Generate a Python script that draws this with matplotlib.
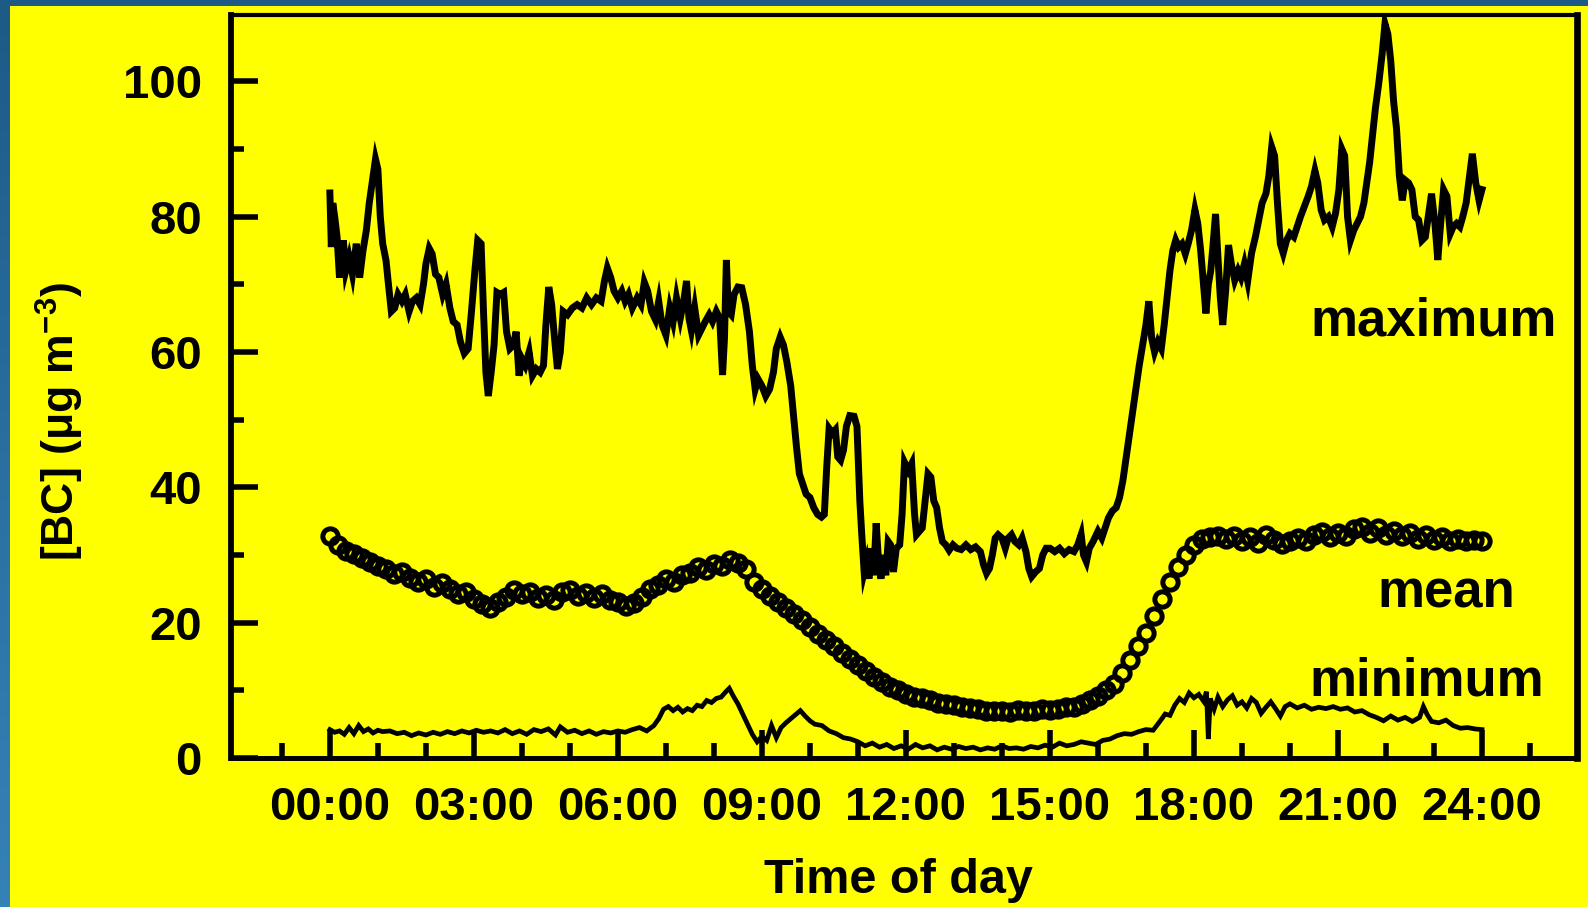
import numpy as np
import matplotlib
matplotlib.use("Agg")
import matplotlib.pyplot as plt
from matplotlib.patches import Rectangle
from matplotlib.ticker import FixedLocator
from matplotlib.colors import LinearSegmentedColormap
from matplotlib import font_manager as fm

# ---------------- data ----------------
MAX_POINTS = [
    (0.00, 83.5), (0.03, 75.5), (0.06, 82), (0.10, 80), (0.15, 77), (0.20, 71), (0.28, 76.5), (0.33, 72),
    (0.40, 74), (0.47, 71.5), (0.55, 76), (0.62, 71), (0.69, 75), (0.76, 78), (0.82, 82), (0.90, 86),
    (0.95, 88.5), (1.00, 87), (1.05, 80), (1.10, 76), (1.17, 73.5), (1.22, 70), (1.28, 66), (1.35, 66.5),
    (1.42, 68.5), (1.50, 67.5), (1.57, 68.5), (1.65, 66), (1.72, 67.5), (1.80, 68), (1.88, 67), (1.95, 70),
    (2.00, 73), (2.07, 75.3), (2.13, 74.5), (2.20, 71.5), (2.27, 71), (2.35, 68.5), (2.42, 70), (2.50, 66.5),
    (2.57, 64.5), (2.65, 64), (2.72, 61.5), (2.80, 59.8), (2.88, 60.5), (2.95, 66), (3.02, 72), (3.08, 76.5),
    (3.15, 76), (3.20, 66), (3.25, 57), (3.30, 53.5), (3.36, 57), (3.42, 61), (3.48, 68.8), (3.55, 68.5),
    (3.62, 68.8), (3.68, 63), (3.75, 60.5), (3.82, 61), (3.88, 63), (3.94, 56.5), (4.00, 59), (4.07, 58),
    (4.15, 60), (4.22, 56.5), (4.30, 57.5), (4.38, 57), (4.45, 58), (4.50, 64), (4.56, 69.6), (4.62, 67),
    (4.68, 62), (4.74, 57.5), (4.80, 60), (4.86, 66), (4.95, 65.5), (5.05, 66.5), (5.15, 67), (5.25, 66.5),
    (5.35, 68), (5.45, 67), (5.55, 68), (5.65, 67.5), (5.72, 70.5), (5.78, 72.4), (5.85, 71), (5.92, 69),
    (6.00, 68), (6.08, 69), (6.15, 67.5), (6.22, 68.5), (6.30, 66.5), (6.40, 68), (6.48, 67), (6.55, 70.3),
    (6.62, 69), (6.70, 66), (6.78, 64.8), (6.85, 67.5), (6.92, 64), (7.00, 62.5), (7.08, 66.5), (7.15, 64.5),
    (7.22, 68), (7.30, 65), (7.37, 67.5), (7.43, 70.5), (7.48, 65), (7.53, 63.2), (7.60, 66.5), (7.68, 62.5),
    (7.75, 63.5), (7.82, 64.5), (7.90, 65.5), (7.97, 64.5), (8.05, 66), (8.12, 65), (8.18, 56.6), (8.22, 62),
    (8.26, 73.6), (8.30, 66), (8.36, 65.5), (8.42, 68.5), (8.50, 69.6), (8.58, 69.5), (8.66, 67), (8.74, 63),
    (8.80, 58), (8.86, 54.5), (8.92, 56), (9.00, 55), (9.08, 53.5), (9.16, 54.5), (9.24, 57), (9.30, 60.5),
    (9.38, 62.2), (9.45, 61), (9.52, 58.5), (9.60, 55), (9.66, 50.5), (9.72, 46), (9.78, 42), (9.85, 40.5),
    (9.92, 39), (10.00, 38.5), (10.08, 37), (10.16, 36), (10.24, 35.6), (10.30, 36), (10.35, 43), (10.40, 48.7),
    (10.47, 48), (10.53, 48.5), (10.58, 44.5), (10.64, 44), (10.70, 45.5), (10.76, 49), (10.83, 50.6),
    (10.92, 50.5), (10.98, 49), (11.04, 38), (11.08, 33), (11.13, 27.5), (11.18, 29), (11.23, 26.5),
    (11.28, 31), (11.33, 27), (11.38, 34.7), (11.43, 29), (11.48, 26.5), (11.53, 30), (11.58, 27), (11.63, 32),
    (11.68, 31.5), (11.74, 27.5), (11.80, 31), (11.87, 31.5), (11.92, 36), (11.97, 43.7), (12.05, 42.5),
    (12.12, 43.5), (12.18, 36), (12.22, 33), (12.28, 33.5), (12.34, 34), (12.40, 38), (12.46, 42), (12.52, 41.5),
    (12.58, 38), (12.64, 37), (12.70, 34), (12.76, 32), (12.83, 31.5), (12.90, 30.7), (12.98, 31.5), (13.06, 31),
    (13.15, 30.8), (13.25, 31.5), (13.35, 30.8), (13.45, 31.2), (13.55, 30.5), (13.62, 28.5), (13.68, 27.3),
    (13.74, 28), (13.80, 30), (13.86, 32.5), (13.92, 33), (14.00, 32.5), (14.07, 31), (14.13, 32.5), (14.20, 33),
    (14.27, 32), (14.35, 31.5), (14.42, 32.5), (14.50, 30.5), (14.56, 28), (14.62, 26.8), (14.70, 27.5),
    (14.78, 28), (14.85, 30), (14.92, 31), (15.00, 31), (15.10, 30.5), (15.20, 31), (15.30, 30.2), (15.40, 30.8),
    (15.50, 30.5), (15.58, 31.5), (15.65, 33), (15.70, 30), (15.76, 29), (15.82, 31), (15.90, 32), (16.00, 33.5),
    (16.08, 32.5), (16.15, 34), (16.22, 35.5), (16.30, 36.5), (16.38, 37), (16.45, 38.5), (16.52, 41), (16.60, 45),
    (16.66, 48), (16.72, 51), (16.80, 55), (16.86, 58), (16.93, 61), (17.00, 64), (17.06, 67.5), (17.12, 62),
    (17.18, 60), (17.25, 61.5), (17.32, 60.5), (17.38, 64), (17.44, 68), (17.50, 72), (17.56, 75), (17.62, 76.5),
    (17.68, 75.5), (17.75, 76), (17.82, 74.5), (17.88, 76), (17.95, 78), (18.02, 81), (18.08, 79), (18.14, 75),
    (18.20, 70), (18.25, 65.7), (18.30, 70), (18.35, 72), (18.40, 76), (18.45, 80.4), (18.50, 74), (18.55, 68),
    (18.60, 64), (18.66, 69), (18.72, 75.8), (18.78, 73), (18.85, 70.6), (18.92, 72), (18.98, 71), (19.05, 73),
    (19.12, 70.5), (19.20, 74.6), (19.28, 77), (19.35, 79.5), (19.42, 82), (19.50, 83.4), (19.56, 86),
    (19.62, 90.3), (19.68, 89), (19.74, 82), (19.80, 76), (19.86, 74.6), (19.93, 76.5), (20.00, 77.5),
    (20.08, 77), (20.15, 78.5), (20.22, 80), (20.30, 81.5), (20.38, 83), (20.45, 84.5), (20.52, 86.8),
    (20.58, 85), (20.65, 81), (20.72, 79.5), (20.80, 80), (20.88, 78.5), (20.95, 80.5), (21.02, 84), (21.08, 90),
    (21.14, 89), (21.20, 80), (21.26, 76.5), (21.33, 78), (21.40, 79), (21.47, 80), (21.54, 82), (21.60, 85),
    (21.66, 88), (21.72, 92), (21.78, 96), (21.85, 99.7), (21.92, 104), (21.98, 108.5), (22.04, 107),
    (22.10, 103), (22.16, 97), (22.22, 93), (22.28, 86), (22.34, 82.4), (22.40, 85.4), (22.47, 85), (22.54, 84),
    (22.61, 80), (22.68, 79.5), (22.75, 76.5), (22.82, 77), (22.88, 80), (22.95, 83.4), (23.02, 79),
    (23.08, 73.6), (23.14, 79), (23.20, 84), (23.27, 83), (23.34, 77.5), (23.40, 78.5), (23.47, 79),
    (23.54, 78.5), (23.60, 80), (23.67, 82), (23.74, 86), (23.80, 89.3), (23.87, 85), (23.94, 82.4), (24.00, 84),
]
MAX_HOURS = [p[0] for p in MAX_POINTS]
MAX_BC = [p[1] for p in MAX_POINTS]

# mean: one value every 10 minutes from 00:00 to 24:00
MEAN_BC = [
    32.8, 31.5, 30.6, 30.2, 29.6, 28.9, 28.4, 28.0, 27.2, 27.5, 26.6, 26.0,
    26.4, 25.3, 25.8, 25.0, 24.3, 24.6, 23.5, 22.8, 22.2, 23.0, 23.8, 24.8,
    24.2, 24.6, 23.7, 24.1, 23.4, 24.5, 24.8, 24.0, 24.4, 23.6, 24.2, 23.3,
    23.0, 22.4, 22.9, 23.8, 25.0, 25.6, 26.4, 26.0, 27.0, 27.4, 28.2, 27.8,
    28.6, 28.4, 29.2, 28.8, 28.0, 26.0, 25.0, 24.0, 23.0, 22.2, 21.3, 20.4,
    19.4, 18.3, 17.4, 16.6, 15.5, 14.6, 13.8, 12.8, 12.0, 11.2, 10.5, 10.0,
    9.5, 9.0, 8.8, 8.5, 8.2, 8.0, 7.8, 7.5, 7.4, 7.2, 7.0, 6.9,
    7.0, 6.8, 7.1, 6.9, 7.0, 7.2, 7.1, 7.3, 7.5, 7.6, 8.0, 8.5,
    9.2, 10.0, 11.0, 12.5, 14.5, 16.5, 18.5, 21.0, 23.5, 26.0, 28.2, 30.0,
    31.5, 32.4, 32.6, 32.8, 32.3, 32.8, 32.0, 32.6, 31.8, 32.9, 32.2, 31.6,
    32.0, 32.5, 32.1, 33.0, 33.4, 32.6, 33.2, 32.8, 33.8, 34.2, 33.2, 34.0,
    33.0, 33.6, 32.8, 33.2, 32.4, 32.9, 32.2, 32.6, 32.0, 32.3, 32.0, 32.2,
    32.0,
]
MEAN_HOURS = np.linspace(0, 24, len(MEAN_BC))

MIN_POINTS = [
    (0.0, 4.2), (0.1, 3.8), (0.2, 4.0), (0.3, 3.5), (0.4, 4.5), (0.5, 3.6), (0.6, 4.8), (0.7, 3.9), (0.8, 4.3),
    (0.9, 3.7), (1.0, 4.1), (1.1, 3.9), (1.25, 4.0), (1.4, 3.6), (1.55, 3.8), (1.7, 3.3), (1.85, 3.7), (2.0, 3.4),
    (2.15, 3.8), (2.3, 3.5), (2.45, 3.9), (2.6, 3.6), (2.75, 4.0), (2.9, 3.7), (3.05, 4.1), (3.2, 3.8), (3.35, 4.0),
    (3.5, 3.7), (3.65, 4.2), (3.8, 3.6), (3.95, 4.0), (4.1, 3.5), (4.25, 4.2), (4.4, 3.9), (4.55, 4.3), (4.7, 3.4),
    (4.8, 4.6), (4.95, 3.8), (5.1, 4.1), (5.25, 3.6), (5.4, 4.0), (5.55, 3.5), (5.7, 3.9), (5.85, 3.7), (6.0, 4.0),
    (6.15, 3.8), (6.3, 4.2), (6.45, 4.5), (6.6, 4.0), (6.75, 4.8), (6.85, 5.8), (6.95, 7.2), (7.05, 7.6), (7.15, 7.0),
    (7.25, 7.5), (7.35, 6.8), (7.45, 7.3), (7.55, 7.0), (7.65, 7.8), (7.75, 7.6), (7.85, 8.5), (7.95, 8.2),
    (8.05, 8.8), (8.15, 9.0), (8.25, 9.8), (8.32, 10.3), (8.4, 9.2), (8.5, 8.0), (8.6, 6.5), (8.7, 5.0), (8.8, 3.5),
    (8.9, 2.4), (9.0, 3.2), (9.1, 2.6), (9.2, 4.8), (9.3, 3.0), (9.4, 4.5), (9.5, 5.2), (9.6, 5.8), (9.7, 6.4),
    (9.8, 7.0), (9.9, 6.2), (10.0, 5.5), (10.1, 5.0), (10.25, 4.8), (10.4, 4.0), (10.55, 3.6), (10.7, 3.0),
    (10.85, 2.8), (11.0, 2.4), (11.15, 1.8), (11.3, 2.2), (11.45, 1.6), (11.6, 2.0), (11.75, 1.4), (11.9, 1.8),
    (12.05, 1.3), (12.2, 2.0), (12.35, 1.5), (12.5, 1.8), (12.65, 1.2), (12.8, 1.6), (12.95, 1.3), (13.1, 1.7),
    (13.25, 1.4), (13.4, 1.6), (13.55, 1.2), (13.7, 1.5), (13.85, 1.3), (14.0, 1.8), (14.15, 1.4), (14.3, 1.5),
    (14.45, 1.3), (14.6, 1.7), (14.75, 1.5), (14.9, 1.9), (15.05, 1.6), (15.2, 2.2), (15.35, 1.8), (15.5, 2.0),
    (15.65, 2.4), (15.8, 2.2), (15.95, 2.0), (16.1, 2.6), (16.25, 2.8), (16.4, 3.3), (16.55, 3.6), (16.7, 3.5),
    (16.85, 3.9), (17.0, 4.2), (17.15, 4.1), (17.3, 5.5), (17.4, 6.5), (17.5, 6.3), (17.6, 7.8), (17.7, 8.8),
    (17.8, 8.2), (17.9, 9.6), (18.0, 8.9), (18.1, 9.4), (18.2, 8.4), (18.26, 9.8), (18.3, 2.8), (18.34, 8.8),
    (18.42, 7.2), (18.5, 9.0), (18.6, 7.6), (18.7, 8.6), (18.8, 9.2), (18.9, 7.8), (19.0, 8.3), (19.1, 7.4),
    (19.2, 8.8), (19.3, 8.2), (19.4, 6.6), (19.5, 7.5), (19.6, 8.3), (19.7, 7.3), (19.8, 6.2), (19.9, 7.6),
    (20.0, 8.0), (20.15, 7.4), (20.3, 7.8), (20.45, 7.2), (20.6, 7.5), (20.75, 7.3), (20.9, 7.6), (21.05, 7.2),
    (21.2, 7.4), (21.35, 6.8), (21.5, 7.0), (21.65, 6.4), (21.8, 6.0), (21.95, 5.5), (22.1, 6.2), (22.25, 5.6),
    (22.4, 6.0), (22.55, 5.4), (22.7, 6.0), (22.78, 7.6), (22.86, 6.4), (22.95, 5.4), (23.1, 5.2), (23.25, 5.6),
    (23.4, 4.8), (23.55, 4.4), (23.7, 4.5), (23.85, 4.3), (24.0, 4.2),
]
MIN_HOURS = [p[0] for p in MIN_POINTS]
MIN_BC = [p[1] for p in MIN_POINTS]

MAJOR_HOURS = [0, 3, 6, 9, 12, 15, 18, 21, 24]
X_TICK_LABELS = ["00:00", "03:00", "06:00", "09:00", "12:00", "15:00", "18:00", "21:00", "24:00"]
MINOR_HOURS = [-1, 1, 2, 4, 5, 7, 8, 10, 11, 13, 14, 16, 17, 19, 20, 22, 23, 25]
Y_MAJOR = [0, 20, 40, 60, 80, 100]
Y_MINOR = [10, 30, 50, 70, 90]
SERIES_LABELS = ["maximum", "mean", "minimum"]
X_LABEL = "Time of day"
Y_LABEL = r"[BC] ($\mathregular{\mu}$g m$^{\mathregular{-3}}$)"

# ---------------- style ----------------
YELLOW = "#ffff00"
names = {f.name for f in fm.fontManager.ttflist}
MAIN = "Liberation Sans" if "Liberation Sans" in names else "DejaVu Sans"

plt.rcParams["font.family"] = [MAIN, "DejaVu Sans"]
plt.rcParams["font.weight"] = "bold"
plt.rcParams["mathtext.fontset"] = "custom"
plt.rcParams["mathtext.rm"] = MAIN + ":bold"
plt.rcParams["mathtext.it"] = MAIN + ":bold"
plt.rcParams["mathtext.bf"] = MAIN + ":bold"

W, H = 1588, 907
fig = plt.figure(figsize=(W / 100, H / 100), dpi=100, facecolor=YELLOW)

# blue frame strips (top and left)
fig.add_artist(Rectangle((0, 1 - 6 / H), 1, 6 / H, transform=fig.transFigure,
                         facecolor="#1d5a86", edgecolor="none", zorder=0))
axb = fig.add_axes([0, 0, 10 / W, 1])
grad = np.linspace(0, 1, 256).reshape(-1, 1)
cmap = LinearSegmentedColormap.from_list("b", ["#1d5a86", "#2a6fa0", "#3582b8"])
axb.imshow(grad, aspect="auto", cmap=cmap, extent=[0, 1, 0, 1], origin="upper")
axb.set_axis_off()

ax = fig.add_axes([231 / W, 1 - 758 / H, (1577 - 231) / W, (758 - 15) / H])
ax.set_facecolor(YELLOW)
ax.set_xlim(-2.06, 25.98)
ax.set_ylim(0, 109.8)

ax.plot(MAX_HOURS, MAX_BC, color="black", lw=5.0, solid_joinstyle="miter", zorder=3)
ax.plot(MIN_HOURS, MIN_BC, color="black", lw=3.4, solid_joinstyle="miter", zorder=3)
ax.plot(MEAN_HOURS, MEAN_BC, ls="none", marker="o", ms=11, mfc="none",
        mec="black", mew=3.6, zorder=4)

ax.set_xticks(MAJOR_HOURS)
ax.set_xticklabels(X_TICK_LABELS)
ax.xaxis.set_minor_locator(FixedLocator(MINOR_HOURS))
ax.set_yticks(Y_MAJOR)
ax.set_yticklabels([str(v) for v in Y_MAJOR])
ax.yaxis.set_minor_locator(FixedLocator(Y_MINOR))

ax.tick_params(which="both", direction="in", width=4, color="black",
               top=False, right=False, labelsize=34)
ax.tick_params(axis="x", which="major", length=20, pad=20)
ax.tick_params(axis="x", which="minor", length=10.5)
ax.tick_params(axis="y", which="major", length=19.5, pad=21)
ax.tick_params(axis="y", which="minor", length=9.5)
for lab in ax.get_xticklabels() + ax.get_yticklabels():
    lab.set_fontweight("bold")

ax.spines["top"].set_linewidth(3.0)
ax.spines["left"].set_linewidth(4.2)
ax.spines["bottom"].set_linewidth(3.6)
ax.spines["right"].set_linewidth(4.8)

# axis titles
fig.text(898 / W, 1 - 893 / H, X_LABEL, ha="center", va="baseline",
         fontsize=35, fontweight="bold")
fig.text(75 / W, 1 - 421 / H, Y_LABEL, rotation=90, rotation_mode="anchor",
         ha="center", va="baseline", fontsize=32, fontweight="bold")

# series labels
fig.text(1434 / W, 1 - 335 / H, SERIES_LABELS[0], ha="center", va="baseline",
         fontsize=38, fontweight="bold")
fig.text(1446 / W, 1 - 607 / H, SERIES_LABELS[1], ha="center", va="baseline",
         fontsize=38, fontweight="bold")
fig.text(1427 / W, 1 - 695 / H, SERIES_LABELS[2], ha="center", va="baseline",
         fontsize=38, fontweight="bold")

fig.savefig("out.png", dpi=100, facecolor=YELLOW)
